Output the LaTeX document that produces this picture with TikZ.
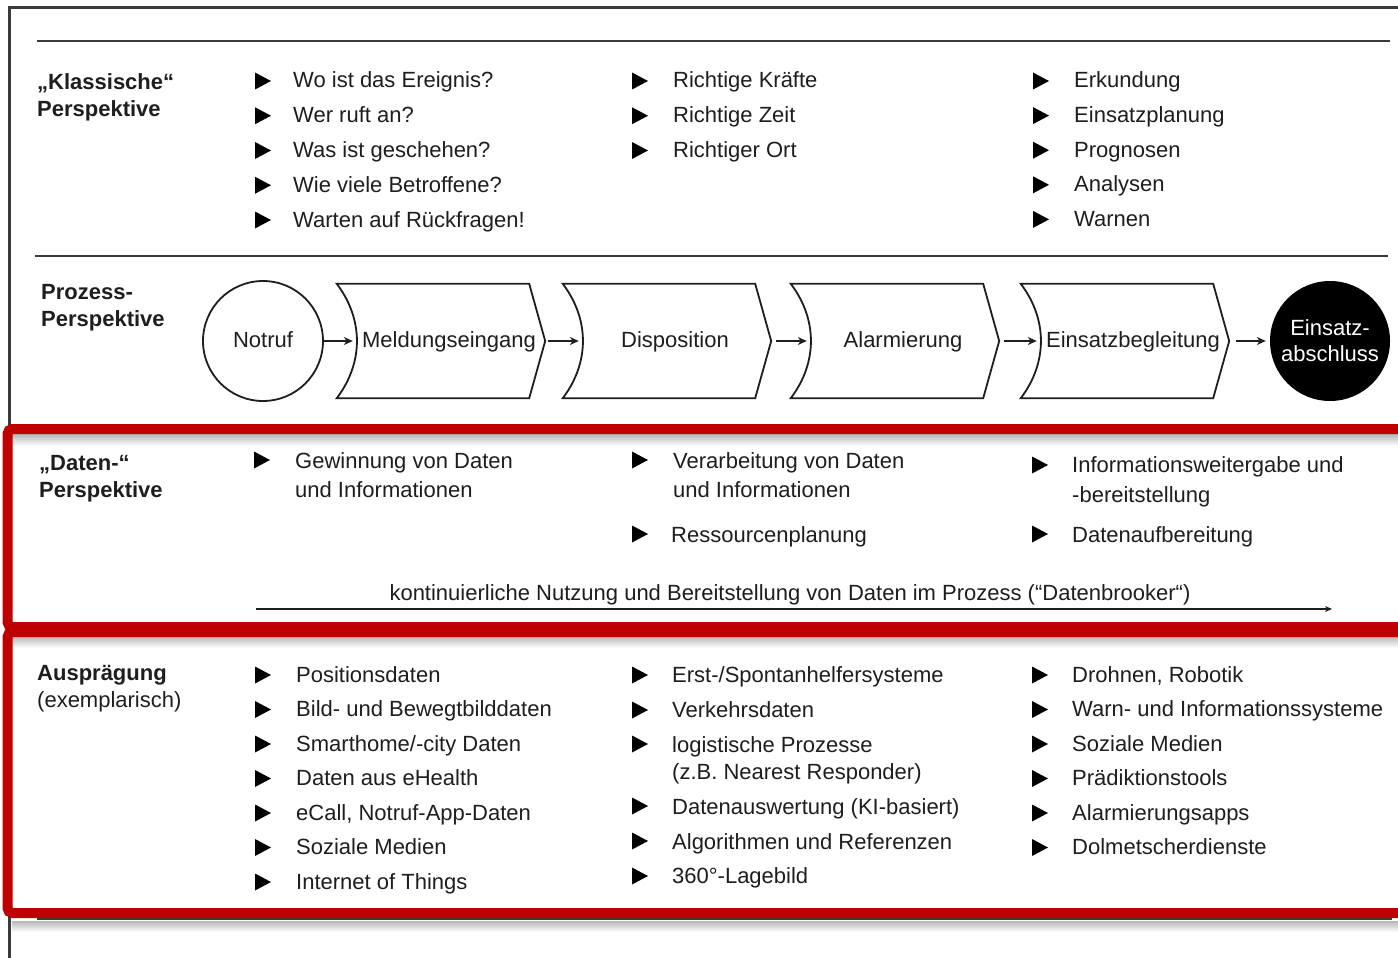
\documentclass[tikz,border=0pt]{standalone}
\usepackage{fontspec}
\setmainfont{Liberation Sans}
\usetikzlibrary{arrows.meta,shapes.geometric,calc}
\definecolor{ink}{HTML}{1E1E1E}
\definecolor{framegray}{HTML}{3A3A3A}
\definecolor{boxred}{HTML}{C00000}
\begin{document}
\begin{tikzpicture}[x=1pt,y=-1pt,
  txt/.style={anchor=base west, inner sep=0pt, text=ink, font=\fontsize{22}{26}\selectfont},
  head/.style={txt, font=\fontsize{22}{26}\selectfont\bfseries},
  bul/.style={rectangle, draw=none, inner sep=0pt, minimum width=16pt, minimum height=17pt,
              path picture={\fill[black] (path picture bounding box.north west)
                 -- (path picture bounding box.east)
                 -- (path picture bounding box.south west) -- cycle;}},
  rule/.style={draw=framegray, line width=2.2pt},
  stage/.style={inner sep=0pt, minimum width=208pt, minimum height=114pt, text=ink,
                text height=16pt, text depth=4pt, font=\fontsize{22}{26}\selectfont},
  outline/.style={draw=ink, line width=1.8pt, line join=miter},
  flow/.style={draw=ink, line width=1.4pt, -{Stealth[length=9pt,width=8pt]}},
  redbox/.style={draw=boxred, line width=10pt, rounded corners=5pt},
  shadowband/.style={top color=black!28, bottom color=white, draw=none},
]
\useasboundingbox (0,0) rectangle (1398,958);
\clip (0,0) rectangle (1398,958);
\fill[white] (0,0) rectangle (1398,958);

% outer frame and separating rules
\draw[framegray, line width=3pt] (9,960) -- (9,8) -- (1400,8);
\draw[rule] (37,41) -- (1390,41);
\draw[rule] (35,256) -- (1388,256);
\draw[rule] (37,919) -- (1392,919);

% ---------- "Klassische" Perspektive ----------
\node[head] (kh1) at (37,89) {„Klassische“};
\node[head] (kh2) at (37,116) {Perspektive};
\foreach \t [count=\i] in {Wo ist das Ereignis?, Wer ruft an?, Was ist geschehen?,
                          Wie viele Betroffene?, Warten auf Rückfragen!} {
  \pgfmathsetmacro\yy{80+34.75*(\i-1)}
  \node[bul] (ka\i) at (263,\yy+1) {};
  \node[txt] (kat\i) at (293,\yy+8) {\t};
}
\foreach \t [count=\i] in {Richtige Kräfte, Richtige Zeit, Richtiger Ort} {
  \pgfmathsetmacro\yy{80+34.75*(\i-1)}
  \node[bul] (kb\i) at (640,\yy+1) {};
  \node[txt] (kbt\i) at (673,\yy+8) {\t};
}
\foreach \t [count=\i] in {Erkundung, Einsatzplanung, Prognosen, Analysen, Warnen} {
  \pgfmathsetmacro\yy{80+34.6*(\i-1)}
  \node[bul] (kc\i) at (1041,\yy+1) {};
  \node[txt] (kct\i) at (1074,\yy+8) {\t};
}

% ---------- Prozess-Perspektive ----------
\node[head] (ph1) at (41,299) {Prozess-};
\node[head] (ph2) at (41,326) {Perspektive};

\node[circle, draw=ink, line width=1.8pt, minimum size=120pt, inner sep=0pt, text=ink,
      text height=16pt, text depth=4pt,
      font=\fontsize{22}{26}\selectfont] (notruf) at (263,341) {Notruf};

\node[stage] (mel) at (441,341) {\hspace*{16pt}Meldungseingang};
\node[stage] (dis) at (667,341) {\hspace*{16pt}Disposition};
\node[stage] (ala) at (895,341) {\hspace*{16pt}Alarmierung};
\node[stage] (ein) at (1125,341) {\hspace*{16pt}Einsatzbegleitung};
\foreach \n in {mel,dis,ala,ein} {
  \draw[outline] (\n.north west) -- ([xshift=-16pt]\n.north east) -- (\n.east)
    -- ([xshift=-16pt]\n.south east) -- (\n.south west)
    to[bend right=37] (\n.north west) -- cycle;
}
\node[circle, fill=black, minimum size=120pt, inner sep=0pt, text=white, align=center,
      font=\fontsize{22}{26}\selectfont] (abs) at (1330,341) {Einsatz-\\abschluss};

\draw[flow, shorten >=3pt] (notruf) -- ([xshift=19pt]mel.west);
\draw[flow, shorten <=3pt, shorten >=3pt] (mel.east) -- ([xshift=19pt]dis.west);
\draw[flow, shorten <=5pt, shorten >=3pt] (dis.east) -- ([xshift=19pt]ala.west);
\draw[flow, shorten <=5pt, shorten >=3pt] (ala.east) -- ([xshift=19pt]ein.west);
\draw[flow, shorten <=7pt, shorten >=4pt] (ein.east) -- (abs);

% ---------- soft shadows under the red frames ----------
\shade[shadowband] (12,434) rectangle (1398,446);
\shade[shadowband] (12,636) rectangle (1398,648);
\shade[shadowband] (12,921) rectangle (1398,932);

% ---------- "Daten-" Perspektive ----------
\node[head] (dh1) at (39,470) {„Daten-“};
\node[head] (dh2) at (39,497) {Perspektive};

\node[bul] (da1) at (262,460) {};
\node[txt] (dat1) at (295,468) {Gewinnung von Daten};
\node[txt] (dat2) at (295,497) {und Informationen};

\node[bul] (db1) at (640,460) {};
\node[txt] (dbt1) at (673,468) {Verarbeitung von Daten};
\node[txt] (dbt2) at (673,497) {und Informationen};
\node[bul] (db2) at (640,534) {};
\node[txt] (dbt3) at (671,542) {Ressourcenplanung};

\node[bul] (dc1) at (1040,465) {};
\node[txt] (dct1) at (1072,472) {Informationsweitergabe und};
\node[txt] (dct2) at (1072,502) {-bereitstellung};
\node[bul] (dc2) at (1040,534) {};
\node[txt] (dct3) at (1072,542) {Datenaufbereitung};

\node[txt, anchor=base] (broker) at (790,600)
  {kontinuierliche Nutzung und Bereitstellung von Daten im Prozess (“Datenbrooker“)};
\coordinate (fstart) at (256,609);
\coordinate (fend) at (1332,609);
\draw[flow, line width=1.2pt, -{Stealth[length=7pt,width=6pt]}] (fstart) -- (fend);

% ---------- Ausprägung ----------
\node[head] (ah1) at (37,680) {Ausprägung};
\node[txt] (ah2) at (37,707) {(exemplarisch)};

\foreach \t [count=\i] in {Positionsdaten, Bild- und Bewegtbilddaten, Smarthome/-city Daten,
                          Daten aus eHealth, {eCall, Notruf-App-Daten}, Soziale Medien,
                          Internet of Things} {
  \pgfmathsetmacro\yy{674+34.5*(\i-1)}
  \node[bul] (aa\i) at (263,\yy+1) {};
  \node[txt] (aat\i) at (296,\yy+8) {\t};
}

\node[bul] (ab1) at (640,675) {};
\node[txt] (abt1) at (672,682) {Erst-/Spontanhelfersysteme};
\node[bul] (ab2) at (640,710) {};
\node[txt] (abt2) at (672,717) {Verkehrsdaten};
\node[bul] (ab3) at (640,744) {};
\node[txt] (abt3) at (672,752) {logistische Prozesse};
\node[txt] (abt3b) at (672,779) {(z.B. Nearest Responder)};
\node[bul] (ab4) at (640,806) {};
\node[txt] (abt4) at (672,814) {Datenauswertung (KI-basiert)};
\node[bul] (ab5) at (640,841) {};
\node[txt] (abt5) at (672,849) {Algorithmen und Referenzen};
\node[bul] (ab6) at (640,876) {};
\node[txt] (abt6) at (672,883) {360°-Lagebild};

\foreach \t [count=\i] in {{Drohnen, Robotik}, Warn- und Informationssysteme, Soziale Medien,
                          Prädiktionstools, Alarmierungsapps, Dolmetscherdienste} {
  \pgfmathsetmacro\yy{674+34.5*(\i-1)}
  \node[bul] (ac\i) at (1040,\yy+1) {};
  \node[txt] (act\i) at (1072,\yy+8) {\t};
}

% ---------- red frames ----------
\draw[redbox] (7.5,429) rectangle (1420,627);
\draw[redbox] (7.5,632) rectangle (1420,913);
\end{tikzpicture}
\end{document}
